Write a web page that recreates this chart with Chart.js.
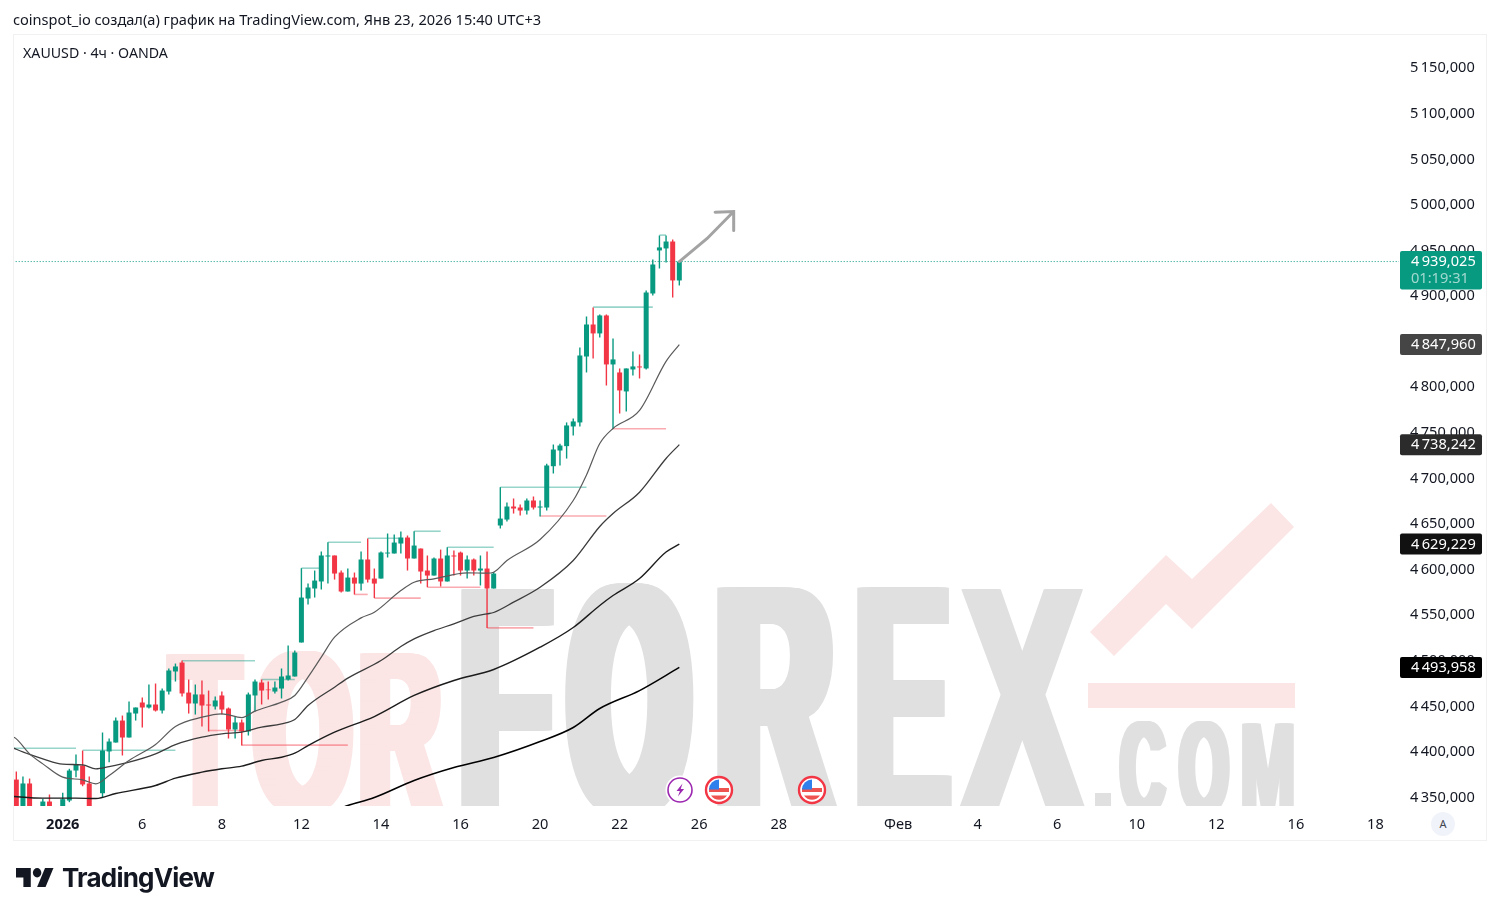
<!DOCTYPE html>
<html lang="ru">
<head>
<meta charset="utf-8">
<title>XAUUSD 4h</title>
<script src="https://cdn.jsdelivr.net/npm/chart.js@4"></script>
<style>
html,body{margin:0;padding:0;background:#fff;overflow:hidden;width:1499px;height:916px}
body{position:relative;font-family:"Noto Sans",sans-serif;color:#131722}
#frame{position:absolute;left:13px;top:34px;width:1472px;height:805px;border:1px solid #f1f1f1}
canvas{position:absolute;left:0;top:0}
.t{position:absolute;white-space:nowrap;font-size:14.6px;line-height:20px}
#head{left:13px;top:9px}
#sym{left:23px;top:43px;font-size:14.2px}
#auto{position:absolute;left:1431px;top:812px;width:24px;height:24px;border-radius:50%;background:#f0f3fa;font-size:11px;line-height:24px;text-align:center;color:#434651}
#logo{position:absolute;left:15.5px;top:868px}
#brand{position:absolute;left:62px;top:860px;font:700 26px/36px Inter,sans-serif;color:#131722;letter-spacing:-.8px;white-space:nowrap}
svg.ev{position:absolute;width:30px;height:30px}
</style>
</head>
<body>
<div id="frame"></div>
<canvas id="c" width="1499" height="916"></canvas>
<div class="t" id="head">coinspot_io создал(а) график на TradingView.com, Янв 23, 2026 15:40 UTC+3</div>
<div class="t" id="sym">XAUUSD · 4ч · OANDA</div>
<div id="auto">A</div>
<svg id="logo" width="38" height="19" viewBox="0 6 36 16" preserveAspectRatio="none"><path fill="#131722" d="M14 6H0v8h7v8h7V6Z"/><circle fill="#131722" cx="20" cy="10" r="4"/><path fill="#131722" d="M28 22h-8l7.5-16h8L28 22Z"/></svg>
<div id="brand">TradingView</div>
<svg class="ev" style="left:665px;top:775px" viewBox="0 0 30 30"><circle cx="15" cy="15" r="14.5" fill="#fff"/><circle cx="15" cy="15" r="12" fill="#fff" stroke="#9c27b0" stroke-width="1.6"/><path d="M17.5 8.5l-6 7.5h3.4l-2 5.5 6.2-7.6h-3.4z" fill="#9c27b0"/></svg>
<svg class="ev" style="left:704px;top:775px" viewBox="0 0 30 30"><circle cx="15" cy="15" r="13" fill="#fff" stroke="#f23645" stroke-width="2.4"/><path d="M5 13h20v4H5zM7 20.5h16a9.6 9.6 0 0 1-16 0z" fill="#ef5350"/><path d="M5 14.5a10 10 0 0 1 10-10V14.5z" fill="#2f80ed"/></svg>
<svg class="ev" style="left:797px;top:775px" viewBox="0 0 30 30"><circle cx="15" cy="15" r="13" fill="#fff" stroke="#f23645" stroke-width="2.4"/><path d="M5 13h20v4H5zM7 20.5h16a9.6 9.6 0 0 1-16 0z" fill="#ef5350"/><path d="M5 14.5a10 10 0 0 1 10-10V14.5z" fill="#2f80ed"/></svg>
<script>
const opens=[4371,4330,4366.7,4326,4335,4346.9,4334,4335,4348,4380.9,4386.4,4366.7,4332,4356,4401.8,4411.6,4435.7,4417.1,4443.4,4455.5,4450,4453.3,4446.7,4467.5,4489.5,4499.3,4466.4,4454.4,4464.3,4453.3,4451.1,4463.2,4448.9,4425.9,4433.6,4423.7,4463.2,4477.4,4469.7,4467.5,4470.8,4480.7,4484,4521.3,4569.5,4580.5,4588.2,4615.6,4616.7,4598,4577.2,4592.5,4585.9,4612.3,4591.4,4591.4,4618.9,4618.9,4629.8,4636.4,4613.4,4624.3,4600.2,4594.7,4613.4,4588.2,4616.7,4619.9,4600.2,4612.3,4600.2,4602.4,4580.5,4649.6,4656.1,4670.4,4669.3,4666,4677,4669.3,4669.3,4714.6,4731.8,4736.6,4758.2,4762.6,4834.9,4870,4860.2,4879.9,4826.2,4817.4,4796.6,4820.7,4824,4821.8,4904,4951.2,4953.4,4961,4918.3];
const highs=[4379.8,4374.3,4372.1,4336,4349.9,4354.6,4338,4356.4,4382.8,4398.5,4402.8,4374.3,4338,4422.6,4416,4439,4441.2,4456.6,4450,4461,4475.2,4476.3,4470.8,4492.8,4498.2,4501.5,4480.7,4475.2,4479.6,4468.6,4462.1,4467.5,4450,4440.1,4436.8,4466.4,4480.7,4480.7,4478.5,4478.5,4492.8,4518,4512.5,4602.8,4586,4600.2,4621,4631.3,4616.7,4600.2,4602.4,4598,4621,4635.3,4602.4,4621,4640.8,4639.7,4643,4638.6,4643.3,4624.3,4616.7,4614.5,4623.2,4625.8,4622.1,4621,4616.7,4613.4,4616.7,4621,4598.7,4691.6,4674.8,4679.2,4672.6,4679.2,4681.4,4677,4717.2,4738.4,4739.2,4762.6,4767,4844.8,4878.8,4888.7,4881,4881,4854.7,4821.8,4821.8,4840.4,4837.1,4907.3,4941.3,4967.6,4967.6,4963.2,4939.1];
const lows=[4320,4320,4325,4318,4330,4330,4322,4330,4346.2,4373.6,4363.7,4330,4322,4351.7,4390.1,4411.6,4397.4,4417.1,4435.7,4428.1,4448.9,4445.6,4443.4,4464.3,4478.5,4462.1,4443.4,4442.3,4429.2,4423.7,4447.8,4442.3,4416,4416,4408.3,4419.3,4445.6,4453.3,4458.8,4465.4,4459.9,4479.6,4484,4521.3,4562.9,4570.6,4579.4,4586,4590.3,4576.1,4577.2,4573.9,4578.3,4587,4570,4591.4,4614.5,4618.9,4618.9,4600.2,4613.4,4586,4581.9,4594.7,4582.7,4588.2,4594.7,4594.7,4591.4,4594.7,4583.8,4537.3,4580.5,4646.3,4653.9,4662.7,4660.5,4661.6,4667.1,4659.4,4666,4706.6,4715.4,4723,4748.3,4758.2,4817.4,4832.8,4855.8,4803.1,4755.6,4772.4,4774.6,4814.1,4810.8,4820.7,4901.8,4931.4,4938,4899.6,4912.8];
const closes=[4325,4366.7,4335,4332,4346.9,4335,4328,4349.5,4380.9,4387.5,4365.6,4335,4326,4402.8,4412.7,4435.7,4417.1,4444.5,4450,4450,4453.3,4446.7,4468.6,4490.6,4495,4465.4,4454.4,4464.3,4452.2,4452.2,4457.7,4447.8,4425.9,4433.6,4423.7,4464.3,4478.5,4468.6,4469,4471.9,4484,4485.1,4510.3,4570.6,4581.6,4589.2,4616.7,4616.7,4596.9,4577.2,4592.5,4585.9,4612.3,4590.3,4585.9,4620,4619.9,4630.9,4636.4,4613.4,4627.6,4599.1,4594.7,4613.4,4588.2,4616.7,4615.6,4600.2,4612.3,4600.2,4602.4,4580.5,4596.9,4657.2,4670.4,4668.2,4666,4677,4669.3,4670.4,4715.4,4732.9,4737.3,4759.3,4763.7,4836,4870,4860.2,4879.9,4826.2,4831.7,4797.7,4821.8,4824,4822.9,4905.1,4935.8,4954.5,4961,4918.3,4939.025];

const ma1X=[-1,0,2,4,7,10,12,14,17,21,24,28,31,34,36,40,42,44,46,48,52,54,58,60,63,68,71,72,74,79,84,86,88,90,94,98,100];
const ma1Y=[4419.3,4415.6,4399.2,4388.2,4373.6,4370.7,4366.3,4375.4,4391.9,4409.4,4429.2,4439.4,4443.1,4439,4446,4455.9,4463.2,4483.3,4505.2,4527.1,4548.3,4554.5,4578.3,4587.4,4591.1,4597.7,4597.3,4598.4,4611.2,4634.2,4677,4705,4739.5,4756,4775.7,4829.5,4847.96];
const ma2X=[-1,2,4,7,10,12,14,17,21,24,28,31,34,37,40,42,44,48,50,55,58,60,63,66,69,71,72,75,79,84,88,90,94,98,100];
const ma2Y=[4407.2,4398.5,4393.7,4387.9,4387.1,4382.8,4385.3,4390.1,4399.2,4409.4,4417.5,4421.1,4423,4428.4,4432.1,4436.8,4452.2,4472.3,4482.2,4501.5,4516.9,4525.3,4534.4,4541.7,4549.8,4552.7,4554.2,4565.5,4581.9,4611.2,4648.5,4662.7,4686.1,4723.1,4738.242];
const ma3X=[-1,4,9,12,15,21,24,28,31,34,37,40,42,44,48,54,60,66,72,79,84,88,90,94,98,100];
const ma3Y=[4352.8,4350.6,4350.6,4350.2,4355.7,4364.5,4372.5,4379.1,4382.8,4385.7,4391.9,4395.5,4399.9,4408.3,4423,4440.1,4463.2,4479.6,4491.7,4516.1,4537.7,4561.9,4572.8,4591.5,4620.5,4629.229];
const ma4X=[46,50,54,60,66,72,79,84,88,94,100];
const ma4Y=[4331.6,4342.5,4351.3,4370,4384.2,4395.2,4412.7,4428.1,4448.9,4468.6,4493.958];

const highFrom=[-1,10,25,37,43,47,53,60,65,73,87,97];
const highTo=[9,24,36,42,45.7,52,58,64,72,86,96,98];
const highLevel=[4405.4,4403.2,4501.2,4480.7,4602.8,4631.3,4635.6,4643.3,4625.8,4691.6,4889,4968];
const lowFrom=[29,34,51,54,62,71,79,90];
const lowTo=[34,50,53,61,70,78,89,98];
const lowLevel=[4424.8,4408.7,4574,4570,4581.9,4537.3,4660,4755.6];

const arrowX=[100,104.2,108.2,null,105.4,108.2,108.2];
const arrowY=[4939,4964.3,4993.9,null,4993.2,4993.9,4973];

const lastPrice=4939.025;
const countdown="01:19:31";
const tagValues=[4847.96,4738.242,4629.229,4493.958];
const tagColors=["#454545","#2b2b2b","#111111","#000000"];

const xTickPos=[7,19,31,43,55,67,79,91,103,115,133,145,157,169,181,193,205];
const xTickLabels=["2026","6","8","12","14","16","20","22","26","28","Фев","4","6","10","12","16","18"];
const yTickValues=[5150,5100,5050,5000,4950,4900,4850,4800,4750,4700,4650,4600,4550,4500,4450,4400,4350];

const GREEN="#089981",RED="#F23645",PINK="#fbe5e5",GREY="#e0e0e0",FF='"Noto Sans",sans-serif',FS=14.6;
const fmt=v=>{const s=v.toFixed(3).replace(".",",");return s[0]+"\u2009"+s.slice(1);};
const idx=opens.map((_,i)=>i);
const colors=idx.map(i=>closes[i]>=opens[i]?GREEN:RED);
const line=(xs,ys,color,w,extra)=>Object.assign({type:"line",data:xs.map((x,i)=>({x,y:ys[i]})),borderColor:color,borderWidth:w,pointRadius:0,cubicInterpolationMode:"monotone"},extra||{});

const watermark={id:"watermark",beforeDatasetsDraw(ch){
  const c=ch.ctx,a=ch.chartArea;c.save();c.beginPath();c.rect(a.left,a.top,a.right-a.left,a.bottom-a.top);c.clip();
  const fit=(s,x0,x1,top,bot,col,sw)=>{
    c.save();c.font='bold 200px "Liberation Sans Narrow","Liberation Sans",sans-serif';c.textBaseline="alphabetic";c.textAlign="left";
    const m=c.measureText(s),w=m.actualBoundingBoxRight+m.actualBoundingBoxLeft,h=m.actualBoundingBoxAscent+m.actualBoundingBoxDescent;
    const sx=(x1-x0-sw)/w,sy=(bot-top)/h;
    c.translate(x0+sw/2+m.actualBoundingBoxLeft*sx,bot-m.actualBoundingBoxDescent*sy);c.scale(sx,sy);c.fillStyle=col;
    for(let d=-sw/2;d<=sw/2;d+=1)c.fillText(s,d/sx,0);
    c.restore();};
  [["T",166,245,653,812,8],["O",252,354,651,814,16],["R",360,445,653,812,14]].forEach(l=>fit(l[0],l[1],l[2],l[3],l[4],PINK,l[5]));
  [["F",461,554,587,812,16],["O",565,694,583,816,24],["R",717,839,587,812,20],["E",857,952,587,812,16],["X",957,1087,587,812,12]].forEach(l=>fit(l[0],l[1],l[2],l[3],l[4],GREY,l[5]));
  [["C",1119,1167,721,814,8],["O",1178,1230,721,814,8],["M",1242,1294,723,812,6]].forEach(l=>fit(l[0],l[1],l[2],l[3],l[4],GREY,l[5]));
  c.fillStyle=GREY;c.fillRect(1095,793,16,13);
  c.fillStyle=PINK;c.fillRect(1088,683,207,25);
  c.beginPath();[[1090,632],[1114,656],[1166,604],[1192,629],[1294,527],[1271,503],[1192,579],[1166,555]].forEach((p,i)=>i?c.lineTo(p[0],p[1]):c.moveTo(p[0],p[1]));c.closePath();c.fill();
  c.restore();
}};
const tags={id:"tags",afterDraw(ch){
  const c=ch.ctx,y=ch.scales.y,L=1400,W=82;c.save();c.textBaseline="middle";c.textAlign="left";c.font=FS+"px "+FF;
  tagValues.forEach((v,i)=>{const p=y.getPixelForValue(v);c.fillStyle=tagColors[i];c.beginPath();c.roundRect(L,p-10.5,W,21,2);c.fill();c.fillStyle="#fff";c.fillText(fmt(v),1411,p+.5);});
  const p=y.getPixelForValue(lastPrice);c.fillStyle=GREEN;c.beginPath();c.roundRect(L,p-10.5,W,38.5,2);c.fill();
  c.fillStyle="#fff";c.fillText(fmt(lastPrice),1411,p);c.fillStyle="rgba(255,255,255,.62)";c.fillText(countdown,1411,p+17);
  c.restore();
}};

const datasets=[
  line(ma1X,ma1Y,"#5a5a5a",1.2,{order:1,label:"MA1"}),
  line(ma2X,ma2Y,"#3c3c3c",1.3,{order:1,label:"MA2"}),
  line(ma3X,ma3Y,"#1c1c1c",1.4,{order:1,label:"MA3"}),
  line(ma4X,ma4Y,"#000000",1.5,{order:1,label:"MA4"}),
  line(arrowX,arrowY,"#a3a3a3",3,{order:0,label:"Arrow",cubicInterpolationMode:"default",tension:0,spanGaps:false,borderCapStyle:"round",borderJoinStyle:"miter"}),
  line([-1,209],[lastPrice,lastPrice],GREEN,1,{order:5,label:"Last",borderDash:[1,2]}),
  {type:"bar",label:"Bodies",order:3,grouped:false,barPercentage:1,categoryPercentage:1,maxBarThickness:5,inflateAmount:0,data:idx.map(i=>({x:i,y:[opens[i],closes[i]]})),backgroundColor:colors},
  {type:"bar",label:"Wicks",order:4,grouped:false,barPercentage:1,categoryPercentage:1,maxBarThickness:1.4,inflateAmount:0,data:idx.map(i=>({x:i,y:[lows[i],highs[i]]})),backgroundColor:colors}
];
highFrom.forEach((f,i)=>datasets.push(line([f,highTo[i]],[highLevel[i],highLevel[i]],"rgba(8,153,129,.42)",1.6,{order:6,label:"High"+i})));
lowFrom.forEach((f,i)=>datasets.push(line([f,lowTo[i]],[lowLevel[i],lowLevel[i]],"rgba(242,54,69,.42)",1.6,{order:6,label:"Low"+i})));

new Chart(document.getElementById("c"),{
  data:{datasets},
  plugins:[watermark,tags],
  options:{
    responsive:false,animation:false,events:[],
    layout:{padding:{left:14,right:13,top:35,bottom:76}},
    plugins:{legend:{display:false},tooltip:{enabled:false},title:{display:false}},
    scales:{
      x:{type:"linear",offset:false,min:-0.35,max:208.55,grid:{display:false,drawTicks:false,offset:false},border:{display:false},
        afterBuildTicks(s){s.ticks=xTickPos.map(value=>({value}));},
        afterFit(s){s.height=34;},
        ticks:{autoSkip:false,maxRotation:0,minRotation:0,padding:10,color:"#131722",includeBounds:false,
          font:c=>({family:FF,size:FS,weight:c.tick&&c.tick.value===7?"700":"400"}),
          callback:v=>xTickLabels[xTickPos.indexOf(v)]}},
      y:{type:"linear",position:"right",min:4342,max:5187.45,grid:{display:false,drawTicks:false},border:{display:false},
        afterBuildTicks(s){s.ticks=yTickValues.map(value=>({value}));},
        afterFit(s){s.width=87;},
        ticks:{autoSkip:false,padding:11,crossAlign:"near",labelOffset:-1,color:"#131722",font:{family:FF,size:FS},callback:v=>fmt(v)}}
    }
  }
});
</script>
</body>
</html>
